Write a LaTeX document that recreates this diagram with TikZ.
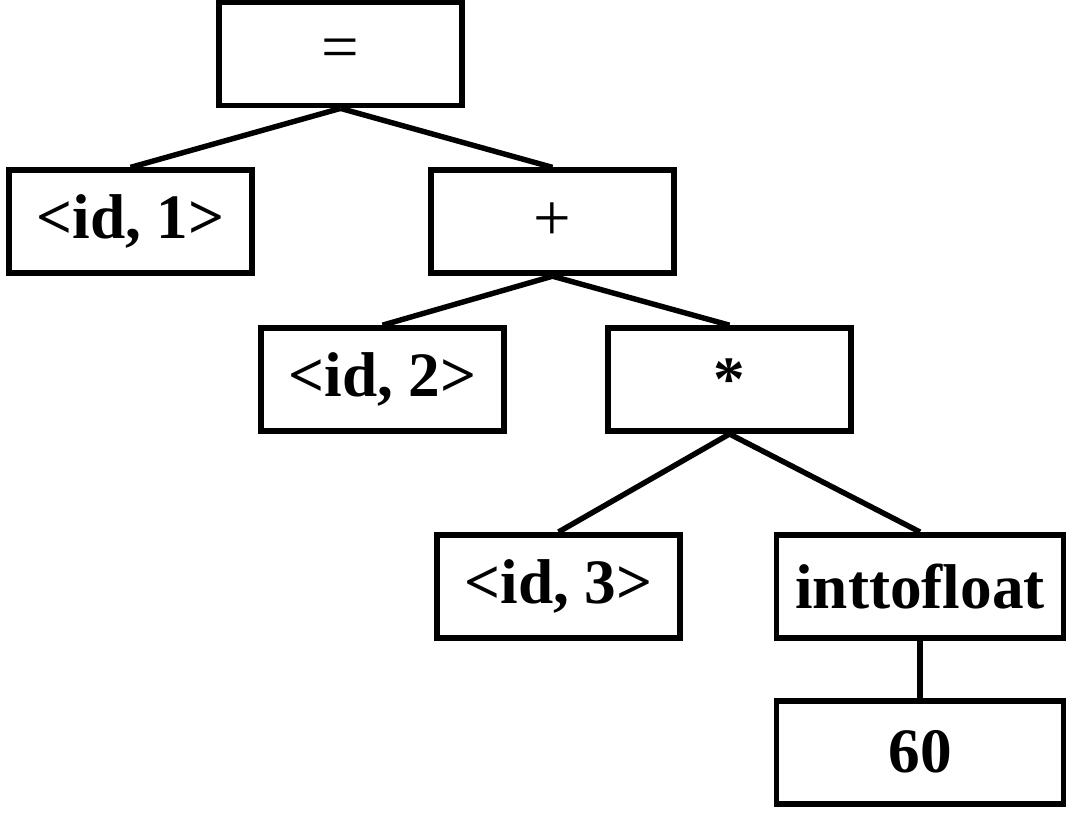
\documentclass[tikz,border=0pt]{standalone}
\usepackage{fontspec}
\setmainfont{Liberation Serif}
\usetikzlibrary{positioning}
\tikzset{
  block/.style={rectangle, draw=black, fill=white, line width=3.3pt,
                minimum width=4.86cm, minimum height=2.06cm, inner sep=0pt,
                align=center, font=\fontsize{36}{40}\selectfont\bfseries},
  wideblock/.style={block, minimum width=5.74cm},
  opblock/.style={block, font=\fontsize{38}{40}\selectfont},
  link/.style={draw=black, line width=3.1pt},
}
\begin{document}
\begin{tikzpicture}
  \useasboundingbox (0,0) rectangle (21.6,-16.38);
  % Root
  \node[opblock] (eq) at (6.81,-1.08) {=};

  % Level 1
  \node[block, below=1.18cm of eq, xshift=-4.2cm] (id1) {<id, 1>};
  \node[opblock, below=1.18cm of eq, xshift=4.24cm] (plus) {+};

  % Level 2
  \node[block, below=0.98cm of plus, xshift=-3.4cm] (id2) {<id, 2>};
  \node[block, below=0.98cm of plus, xshift=3.54cm] (star) {*};

  % Level 3
  \node[block, below=1.96cm of star, xshift=-3.42cm] (id3) {<id, 3>};
  \node[wideblock, below=1.96cm of star, xshift=3.81cm] (conv) {inttofloat};

  % Level 4
  \node[wideblock, below=1.14cm of conv] (num) {60};

  % Edges
  \draw[link] (eq.south) -- (id1.north);
  \draw[link] (eq.south) -- (plus.north);

  \draw[link] (plus.south) -- (id2.north);
  \draw[link] (plus.south) -- (star.north);

  \draw[link] (star.south) -- (id3.north);
  \draw[link] (star.south) -- (conv.north);

  \draw[link] (conv.south) -- (num.north);

\end{tikzpicture}
\end{document}
